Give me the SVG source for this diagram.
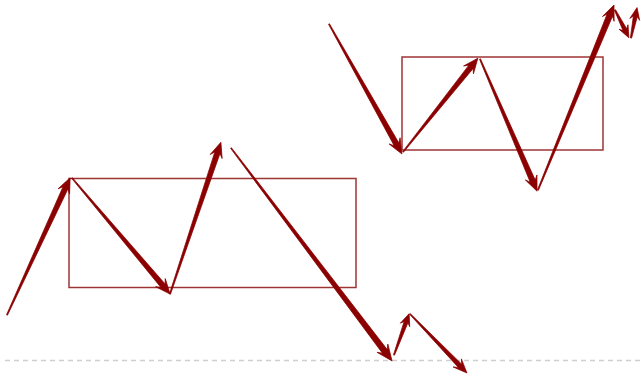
<svg xmlns="http://www.w3.org/2000/svg" width="641" height="376" viewBox="0 0 641 376">
<style>
.box{fill:none;stroke:#9e3535;stroke-width:1.5}
.arr{fill:#8b0000;stroke:#8b0000;stroke-width:0.7;stroke-linejoin:round}
.base{stroke:#cfcfcf;stroke-width:1.5;stroke-dasharray:5 4;fill:none}
</style>
<rect width="641" height="376" fill="#ffffff"/>
<line class="base" x1="5" y1="360.5" x2="640" y2="360.5"/>
<g id="range1"><rect class="box" x="69" y="178.5" width="287" height="109"/></g>
<g id="range2"><rect class="box" x="402" y="57" width="201" height="93"/></g>
<g id="connectors">
<path class="arr" transform="translate(7,315) rotate(-65.3)" d="M0,-0.5 L140,-2.7 L136,-6.3 L151,0 L136,6.3 L140,2.7 L0,0.5 Z"/>
<path class="arr" transform="translate(72,178) rotate(49.8)" d="M0,-0.5 L141,-2.7 L137,-6.3 L152,0 L137,6.3 L141,2.7 L0,0.5 Z"/>
<path class="arr" transform="translate(170,294) rotate(-71.45)" d="M0,-0.5 L149,-2.7 L145,-6.3 L160,0 L145,6.3 L149,2.7 L0,0.5 Z"/>
<path class="arr" transform="translate(231,148) rotate(52.9)" d="M0,-0.5 L255,-3 L251,-6.8 L267,0 L251,6.8 L255,3 L0,0.5 Z"/>
<path class="arr" transform="translate(394,355) rotate(-69.9)" d="M0,-0.5 L35,-2 L32,-5 L44,0 L32,5 L35,2 L0,0.5 Z"/>
<path class="arr" transform="translate(410,314) rotate(46)" d="M0,-0.5 L72,-2.3 L68,-5.8 L82,0 L68,5.8 L72,2.3 L0,0.5 Z"/>
<path class="arr" transform="translate(329,24) rotate(60.7)" d="M0,-0.5 L138,-2.7 L134,-6.3 L149,0 L134,6.3 L138,2.7 L0,0.5 Z"/>
<path class="arr" transform="translate(403,152) rotate(-51.4)" d="M0,-0.5 L109,-2.7 L105,-6.3 L120,0 L105,6.3 L109,2.7 L0,0.5 Z"/>
<path class="arr" transform="translate(480,59) rotate(66.65)" d="M0,-0.5 L133,-2.7 L129,-6.3 L144,0 L129,6.3 L133,2.7 L0,0.5 Z"/>
<path class="arr" transform="translate(538,190) rotate(-67.67)" d="M0,-0.5 L189,-2.9 L185,-6.3 L200,0 L185,6.3 L189,2.9 L0,0.5 Z"/>
<path class="arr" transform="translate(615,10) rotate(63.4)" d="M0,-0.6 L22,-2 L19,-5 L31,0 L19,5 L22,2 L0,0.6 Z"/>
<path class="arr" transform="translate(631,38) rotate(-78.7)" d="M0,-0.6 L22,-2 L19,-5 L31,0 L19,5 L22,2 L0,0.6 Z"/>
</g>
</svg>
